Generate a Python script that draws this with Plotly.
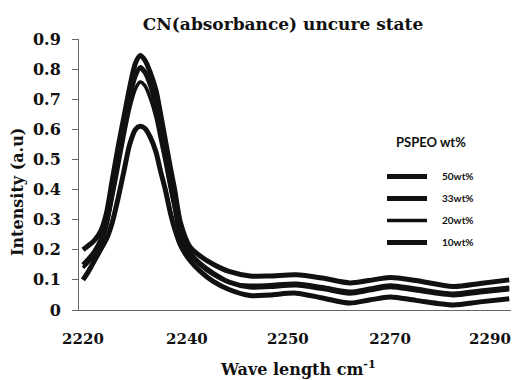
import plotly.graph_objects as go

# ---- data ----
wavenumber = [2220, 2221, 2222, 2223, 2224, 2225, 2226, 2227, 2228, 2229, 2229.8,
              2230.6, 2231.5, 2232.5, 2233.3, 2234.1, 2235, 2235.7, 2236.7, 2238.3,
              2240, 2242.3, 2245, 2248.6, 2252, 2256.5, 2261, 2265.7, 2269, 2272.6,
              2277, 2283.4, 2288, 2293]

pspeo_50 = [0.20, 0.215, 0.232, 0.26, 0.32, 0.43, 0.54, 0.64, 0.74, 0.82, 0.845,
            0.83, 0.79, 0.73, 0.65, 0.565, 0.47, 0.40, 0.29, 0.21,
            0.18, 0.152, 0.128, 0.113, 0.113, 0.117, 0.106, 0.09, 0.098, 0.108,
            0.098, 0.078, 0.088, 0.10]

pspeo_33 = [0.15, 0.17, 0.195, 0.23, 0.29, 0.39, 0.50, 0.61, 0.71, 0.78, 0.805,
            0.79, 0.75, 0.68, 0.60, 0.515, 0.42, 0.35, 0.25, 0.19,
            0.155, 0.122, 0.093, 0.076, 0.078, 0.083, 0.071, 0.056, 0.066, 0.077,
            0.066, 0.05, 0.06, 0.07]

pspeo_20 = [0.14, 0.16, 0.185, 0.22, 0.275, 0.37, 0.47, 0.575, 0.67, 0.735, 0.757,
            0.745, 0.705, 0.64, 0.565, 0.49, 0.40, 0.335, 0.245, 0.185,
            0.15, 0.117, 0.091, 0.082, 0.084, 0.089, 0.077, 0.062, 0.072, 0.083,
            0.072, 0.056, 0.066, 0.076]

pspeo_10 = [0.10, 0.13, 0.165, 0.20, 0.235, 0.29, 0.37, 0.46, 0.55, 0.60, 0.61,
            0.603, 0.575, 0.525, 0.46, 0.40, 0.32, 0.27, 0.215, 0.165,
            0.13, 0.095, 0.068, 0.048, 0.05, 0.056, 0.04, 0.023, 0.033, 0.043,
            0.032, 0.017, 0.027, 0.037]

series_names = ["50wt%", "33wt%", "20wt%", "10wt%"]
series_values = [pspeo_50, pspeo_33, pspeo_20, pspeo_10]
series_widths = [5, 5, 3.5, 5]

legend_title = "PSPEO wt%"
chart_title = "CN(absorbance) uncure state"

# tick labels as printed on the original (unevenly labelled axis)
x_tick_pos = [2220, 2237.8, 2255.1, 2272.6, 2289.7]
x_tick_labels = ["2220", "2240", "2250", "2270", "2290"]
y_ticks = [0, 0.1, 0.2, 0.3, 0.4, 0.5, 0.6, 0.7, 0.8, 0.9]
y_tick_labels = ["0", "0.1", "0.2", "0.3", "0.4", "0.5", "0.6", "0.7", "0.8", "0.9"]

W, H = 512, 380
ML, MR, MT, MB = 79, 1, 39, 70
PW, PH = W - ML - MR, H - MT - MB
serif = "DejaVu Serif"


def px_x(p):
    return (p - ML) / PW


def px_y(p):
    return 1 - (p - MT) / PH


fig = go.Figure()
for name, vals, w in zip(series_names, series_values, series_widths):
    fig.add_trace(go.Scatter(
        x=wavenumber, y=vals, mode="lines", name="\u2002\u2002" + name,
        legendgroup=name,
        line=dict(color="#111111", width=w, shape="spline", smoothing=0.8),
    ))

fig.update_layout(
    width=W, height=H,
    margin=dict(l=ML, r=MR, t=MT, b=MB, pad=0, autoexpand=False),
    paper_bgcolor="white", plot_bgcolor="white",
    title=dict(text="<b>" + chart_title + "</b>",
               font=dict(family=serif, size=17, color="#111"),
               x=283 / W, xanchor="center", xref="container",
               y=1 - 24 / H, yanchor="middle"),
    showlegend=True,
    legend=dict(
        font=dict(family="Lato", size=10, color="#111", weight="bold"),
        x=px_x(382), xanchor="left",
        y=px_y(162), yanchor="top",
        bgcolor="rgba(0,0,0,0)", borderwidth=0,
        tracegroupgap=3, itemwidth=40,
    ),
    xaxis=dict(
        range=[2219.32, 2293.3],
        tickmode="array", tickvals=x_tick_pos, ticktext=x_tick_labels,
        tickfont=dict(family=serif, size=15, color="#111", weight="bold"),
        showgrid=False, zeroline=False,
        showline=True, linecolor="#666", linewidth=1,
        ticks="", ticklabelstandoff=15, ticklabeloverflow="allow",
        automargin=False,
    ),
    yaxis=dict(
        range=[0, 0.9],
        tickmode="array", tickvals=y_ticks, ticktext=y_tick_labels,
        tickfont=dict(family=serif, size=16, color="#111", weight="bold"),
        showgrid=False, zeroline=False,
        showline=True, linecolor="#666", linewidth=1,
        ticks="outside", ticklen=6, tickcolor="#666", ticklabelstandoff=8,
        automargin=False,
    ),
    annotations=[
        dict(text="<b>Intensity (a.u)</b>", xref="paper", yref="paper",
             x=px_x(17), y=px_y(192),
             xanchor="center", yanchor="middle", textangle=-90, showarrow=False,
             font=dict(family=serif, size=16, color="#111")),
        dict(text="<b>Wave length cm<sup>-1</sup></b>", xref="paper", yref="paper",
             x=px_x(298), y=px_y(368),
             xanchor="center", yanchor="middle", showarrow=False,
             font=dict(family=serif, size=16, color="#111")),
        dict(text="<b>" + legend_title + "</b>", xref="paper", yref="paper",
             x=px_x(431), y=px_y(142),
             xanchor="center", yanchor="middle", showarrow=False,
             font=dict(family="Lato", size=13, color="#111")),
    ],
)

fig.write_html("out.html")
